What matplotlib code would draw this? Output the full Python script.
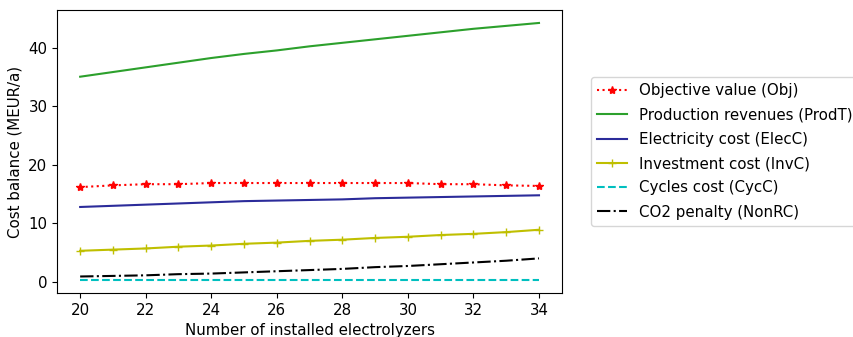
import numpy as np
import matplotlib
matplotlib.use('Agg')
import matplotlib.pyplot as plt

# number of electrolyzers
n_elec = [20, 21, 22, 23, 24, 25, 26, 27, 28, 29, 30, 31, 32, 33, 34]

# cost balance components (MEUR/a)
obj = [16.2, 16.5, 16.7, 16.7, 16.9, 16.9, 16.9, 16.9, 16.9, 16.9, 16.9, 16.7, 16.7, 16.5, 16.4]
prod_t = [35.1, 35.9, 36.7, 37.5, 38.3, 39.0, 39.6, 40.3, 40.9, 41.5, 42.1, 42.7, 43.3, 43.8, 44.3]
elec_c = [12.8, 13.0, 13.2, 13.4, 13.6, 13.8, 13.9, 14.0, 14.1, 14.3, 14.4, 14.5, 14.6, 14.7, 14.8]
inv_c = [5.3, 5.5, 5.7, 6.0, 6.2, 6.5, 6.7, 7.0, 7.2, 7.5, 7.7, 8.0, 8.2, 8.5, 8.9]
cyc_c = [0.3, 0.3, 0.3, 0.3, 0.3, 0.3, 0.3, 0.3, 0.3, 0.3, 0.3, 0.3, 0.3, 0.3, 0.3]
non_rc = [0.9, 1.0, 1.1, 1.3, 1.4, 1.6, 1.8, 2.0, 2.2, 2.5, 2.7, 3.0, 3.3, 3.6, 4.0]

fs = 10.8

fig = plt.figure(figsize=(8.54, 3.37), dpi=100)
ax = fig.add_axes([0.067, 0.131, 0.591, 0.839])

ax.plot(n_elec, obj, 'r*:', label='Objective value (Obj)', markersize=6)
ax.plot(n_elec, prod_t, color='#2ca02c', label='Production revenues (ProdT)')
ax.plot(n_elec, elec_c, color='#2b2b9a', label='Electricity cost (ElecC)')
ax.plot(n_elec, inv_c, 'y+-', label='Investment cost (InvC)', markersize=6)
ax.plot(n_elec, cyc_c, 'c--', label='Cycles cost (CycC)')
ax.plot(n_elec, non_rc, 'k-.', label='CO2 penalty (NonRC)')

ax.set_xticks(range(20, 35, 2))
ax.set_yticks([0, 10, 20, 30, 40])
ax.set_xlabel('Number of installed electrolyzers', fontsize=fs)
ax.set_ylabel('Cost balance (MEUR/a)', fontsize=fs)
ax.tick_params(labelsize=fs)

ax.legend(loc='center left', bbox_to_anchor=(1.042, 0.5), fontsize=fs,
          labelspacing=0.62)

fig.savefig('out.png', dpi=100)
